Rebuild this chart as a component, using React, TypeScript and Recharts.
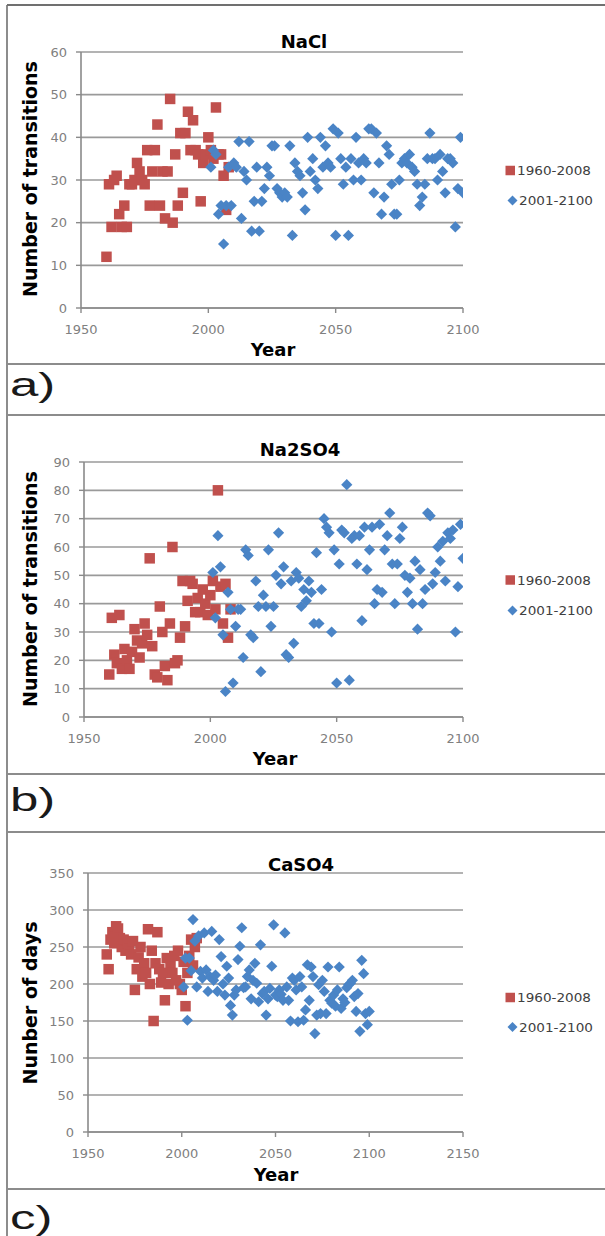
import React from "react";
import { CartesianGrid, Scatter, ScatterChart, XAxis, YAxis } from "recharts";

// categories
const histYears = [
  1960, 1961, 1962, 1963, 1964, 1965, 1966, 1967, 1968, 1969,
  1970, 1971, 1972, 1973, 1974, 1975, 1976, 1977, 1978, 1979,
  1980, 1981, 1982, 1983, 1984, 1985, 1986, 1987, 1988, 1989,
  1990, 1991, 1992, 1993, 1994, 1995, 1996, 1997, 1998, 1999,
  2000, 2001, 2002, 2003, 2004, 2005, 2006, 2007, 2008,
];
const futureYears = [
  2001, 2002, 2003, 2004, 2005, 2006, 2007, 2008, 2009, 2010,
  2011, 2012, 2013, 2014, 2015, 2016, 2017, 2018, 2019, 2020,
  2021, 2022, 2023, 2024, 2025, 2026, 2027, 2028, 2029, 2030,
  2031, 2032, 2033, 2034, 2035, 2036, 2037, 2038, 2039, 2040,
  2041, 2042, 2043, 2044, 2045, 2046, 2047, 2048, 2049, 2050,
  2051, 2052, 2053, 2054, 2055, 2056, 2057, 2058, 2059, 2060,
  2061, 2062, 2063, 2064, 2065, 2066, 2067, 2068, 2069, 2070,
  2071, 2072, 2073, 2074, 2075, 2076, 2077, 2078, 2079, 2080,
  2081, 2082, 2083, 2084, 2085, 2086, 2087, 2088, 2089, 2090,
  2091, 2092, 2093, 2094, 2095, 2096, 2097, 2098, 2099, 2100,
];
const seriesNames = ["1960-2008", "2001-2100"];

// a) NaCl
const naclHist = [
  12, 29, 19, 30, 31, 22, 19, 24, 19, 29,
  29, 30, 34, 32, 30, 29, 37, 24, 32, 37,
  43, 24, 32, 21, 32, 49, 20, 36, 24, 41,
  27, 41, 46, 37, 44, 37, 36, 25, 34, 36,
  40, 37, 35, 47, 36, 36, 31, 23, 33,
];
const naclFuture = [
  33, 37, 36, 22, 24, 15, 24, 33, 24, 34,
  33, 39, 21, 32, 30, 39, 18, 25, 33, 18,
  25, 28, 33, 31, 38, 38, 28, 27, 26, 27,
  26, 38, 17, 34, 32, 31, 27, 23, 40, 32,
  35, 30, 28, 40, 33, 38, 34, 33, 42, 17,
  41, 35, 29, 33, 17, 35, 30, 40, 34, 30,
  35, 34, 42, 42, 27, 41, 34, 22, 26, 38,
  36, 29, 22, 22, 30, 34, 35, 34, 36, 33,
  32, 29, 24, 26, 29, 35, 41, 35, 35, 30,
  36, 32, 27, 35, 35, 34, 19, 28, 40, 27,
];

// b) Na2SO4
const na2so4Hist = [
  15, 35, 22, 19, 36, 17, 24, 20, 17, 23,
  31, 27, 21, 26, 33, 29, 56, 25, 15, 14,
  39, 30, 18, 13, 33, 60, 19, 20, 28, 48,
  32, 41, 48, 47, 37, 42, 37, 45, 40, 36,
  43, 48, 38, 80, 46, 33, 47, 28, 38,
];
const na2so4Future = [
  51, 35, 64, 53, 29, 9, 44, 38, 12, 32,
  38, 38, 21, 59, 57, 29, 28, 48, 39, 16,
  43, 39, 59, 32, 39, 50, 65, 47, 53, 22,
  21, 48, 26, 51, 49, 39, 45, 41, 48, 44,
  33, 58, 33, 45, 70, 67, 65, 30, 59, 12,
  54, 66, 65, 82, 13, 63, 64, 54, 64, 34,
  67, 52, 59, 67, 40, 45, 68, 44, 59, 64,
  72, 54, 40, 54, 63, 67, 50, 44, 49, 40,
  55, 31, 52, 40, 45, 72, 71, 47, 51, 60,
  55, 62, 48, 65, 63, 66, 30, 46, 68, 56,
];

// c) CaSO4
const caso4Hist = [
  240, 220, 260, 270, 255, 278, 275, 262, 250, 260,
  245, 255, 248, 240, 258, 192, 220, 236, 250, 210,
  228, 215, 274, 200, 245, 150, 228, 270, 220, 202,
  215, 178, 235, 200, 225, 215, 238, 205, 245, 200,
  192, 230, 170, 215, 238, 260, 225, 250, 262,
];
const caso4Future = [
  196, 235, 151, 235, 218, 287, 258, 196, 265, 217,
  208, 269, 219, 190, 210, 271, 205, 212, 190, 260,
  237, 200, 185, 224, 208, 171, 158, 185, 192, 233,
  251, 276, 195, 196, 210, 219, 180, 205, 228, 201,
  176, 253, 187, 190, 158, 180, 194, 224, 280, 185,
  183, 192, 186, 178, 269, 196, 178, 150, 208, 205,
  192, 149, 210, 196, 151, 165, 226, 178, 223, 210,
  133, 158, 199, 160, 205, 190, 160, 223, 178, 174,
  185, 170, 192, 223, 167, 180, 175, 195, 199, 201,
  205, 183, 163, 187, 136, 232, 214, 160, 145, 163,
];

// tick labels
const yearTicksAB = [1950, 2000, 2050, 2100];
const yearTicksC = [1950, 2000, 2050, 2100, 2150];
const naclTicks = [0, 10, 20, 30, 40, 50, 60];
const na2so4Ticks = [0, 10, 20, 30, 40, 50, 60, 70, 80, 90];
const caso4Ticks = [0, 50, 100, 150, 200, 250, 300, 350];

const RED = "#C0504D";
const BLUE = "#4A84C6";
const GRID = "#9a9a9a";
const TICK_FONT = "DejaVu Sans";

const toPoints = (xs: number[], ys: number[]) => xs.map((x, i) => ({ x, y: ys[i] }));

const SquareDot = (props: any) => {
  const { cx, cy } = props;
  if (cx == null || cy == null) return null;
  return <rect x={cx - 5.25} y={cy - 5.25} width={10.5} height={10.5} fill={RED} />;
};

const DiamondDot = (props: any) => {
  const { cx, cy } = props;
  if (cx == null || cy == null) return null;
  const r = 5.6;
  return <polygon points={`${cx},${cy - r} ${cx + r},${cy} ${cx},${cy + r} ${cx - r},${cy}`} fill={BLUE} />;
};

type PanelProps = {
  top: number;
  height: number;
  plotLeft: number;
  plotTop: number;
  plotBottom: number;
  xTicks: number[];
  yTicks: number[];
  hist: number[];
  future: number[];
};

const Panel = ({ top, height, plotLeft, plotTop, plotBottom, xTicks, yTicks, hist, future }: PanelProps) => {
  const yAxisWidth = 40;
  const xAxisHeight = 30;
  return (
    <div style={{ position: "absolute", left: 0, top, width: 605, height }}>
      <ScatterChart
        width={605}
        height={height}
        margin={{ top: plotTop, right: 142, bottom: height - plotBottom - xAxisHeight, left: plotLeft - yAxisWidth }}
      >
        <CartesianGrid vertical={false} stroke={GRID} strokeWidth={1.6} />
        <XAxis
          type="number"
          dataKey="x"
          domain={[xTicks[0], xTicks[xTicks.length - 1]]}
          ticks={xTicks}
          interval={0}
          height={xAxisHeight}
          tickSize={5}
          tickMargin={12}
          axisLine={{ stroke: "#8a8a8a", strokeWidth: 1.6 }}
          tickLine={{ stroke: "#8a8a8a", strokeWidth: 1.4 }}
          tick={{ fill: "#808080", fontSize: 13, fontFamily: TICK_FONT }}
          allowDataOverflow
        />
        <YAxis
          type="number"
          dataKey="y"
          domain={[0, yTicks[yTicks.length - 1]]}
          ticks={yTicks}
          interval={0}
          width={yAxisWidth}
          tickSize={5}
          tickMargin={9}
          axisLine={{ stroke: "#8a8a8a", strokeWidth: 1.6 }}
          tickLine={{ stroke: "#8a8a8a", strokeWidth: 1.4 }}
          tick={{ fill: "#808080", fontSize: 13, fontFamily: TICK_FONT }}
          allowDataOverflow
        />
        <Scatter name={seriesNames[0]} data={toPoints(histYears, hist)} shape={SquareDot} isAnimationActive={false} />
        <Scatter name={seriesNames[1]} data={toPoints(futureYears, future)} shape={DiamondDot} isAnimationActive={false} />
      </ScatterChart>
    </div>
  );
};

const LegendBlock = ({ y1, y2 }: { y1: number; y2: number }) => (
  <g>
    <rect x={505.5} y={y1 - 4.75} width={9.5} height={9.5} fill={RED} />
    <text x={517} y={y1 + 4.5} fontSize={12.5} fontFamily={TICK_FONT} fill="#404040" textLength={74} lengthAdjust="spacingAndGlyphs">
      {seriesNames[0]}
    </text>
    <polygon points={`512.5,${y2 - 5} 517.5,${y2} 512.5,${y2 + 5} 507.5,${y2}`} fill={BLUE} />
    <text x={519} y={y2 + 4.5} fontSize={12.5} fontFamily={TICK_FONT} fill="#404040" textLength={74} lengthAdjust="spacingAndGlyphs">
      {seriesNames[1]}
    </text>
  </g>
);

const titleStyle = { fontFamily: "DejaVu Sans", fontSize: 18, fontWeight: 700, fill: "#000" };
const axisTitleStyle = { fontFamily: "DejaVu Sans", fontSize: 19, fontWeight: 700, fill: "#000" };
const panelLabelStyle = { fontFamily: "Liberation Sans", fontSize: 34, fill: "#1a1a1a" };

const Overlay = () => (
  <svg width={605} height={1236} style={{ position: "absolute", left: 0, top: 0, pointerEvents: "none" }}>
    {/* frame */}
    <line x1={7} y1={5} x2={605} y2={5} stroke="#707070" strokeWidth={2} />
    <line x1={7} y1={5} x2={7} y2={1236} stroke="#707070" strokeWidth={1.6} />
    {[364, 415, 774, 832, 1189].map((y) => (
      <line key={y} x1={7} y1={y} x2={605} y2={y} stroke="#8c8c8c" strokeWidth={2} />
    ))}

    {/* titles */}
    <text x={304} y={48} textAnchor="middle" {...titleStyle}>NaCl</text>
    <text x={300} y={456} textAnchor="middle" {...titleStyle}>Na2SO4</text>
    <text x={301} y={871} textAnchor="middle" {...titleStyle}>CaSO4</text>

    {/* y axis titles */}
    <text transform="translate(30,179) rotate(-90)" textAnchor="middle" dominantBaseline="central" {...axisTitleStyle}>
      Number of transitions
    </text>
    <text transform="translate(30,589) rotate(-90)" textAnchor="middle" dominantBaseline="central" {...axisTitleStyle}>
      Number of transitions
    </text>
    <text transform="translate(30,1003) rotate(-90)" textAnchor="middle" dominantBaseline="central" {...axisTitleStyle}>
      Nunber of days
    </text>

    {/* x axis titles */}
    <text x={273} y={356} textAnchor="middle" {...axisTitleStyle} fontSize={18}>Year</text>
    <text x={275} y={765} textAnchor="middle" {...axisTitleStyle} fontSize={18}>Year</text>
    <text x={276} y={1181} textAnchor="middle" {...axisTitleStyle} fontSize={18}>Year</text>

    {/* legends */}
    <LegendBlock y1={170.5} y2={200.5} />
    <LegendBlock y1={580} y2={610.5} />
    <LegendBlock y1={997.5} y2={1027} />

    {/* panel labels */}
    <text transform="translate(10,396) scale(1.5,1)" {...panelLabelStyle}>a)</text>
    <text transform="translate(10,811) scale(1.5,1)" {...panelLabelStyle}>b)</text>
    <text transform="translate(10,1229) scale(1.5,1)" {...panelLabelStyle}>c)</text>
  </svg>
);

export default function App() {
  return (
    <div style={{ position: "absolute", left: 0, top: 0, width: 605, height: 1236, background: "#fff", overflow: "hidden" }}>
      <Panel top={0} height={364} plotLeft={81} plotTop={52} plotBottom={308} xTicks={yearTicksAB} yTicks={naclTicks} hist={naclHist} future={naclFuture} />
      <Panel top={415} height={359} plotLeft={84} plotTop={47} plotBottom={302} xTicks={yearTicksAB} yTicks={na2so4Ticks} hist={na2so4Hist} future={na2so4Future} />
      <Panel top={832} height={357} plotLeft={88} plotTop={41} plotBottom={300} xTicks={yearTicksC} yTicks={caso4Ticks} hist={caso4Hist} future={caso4Future} />
      <Overlay />
    </div>
  );
}
